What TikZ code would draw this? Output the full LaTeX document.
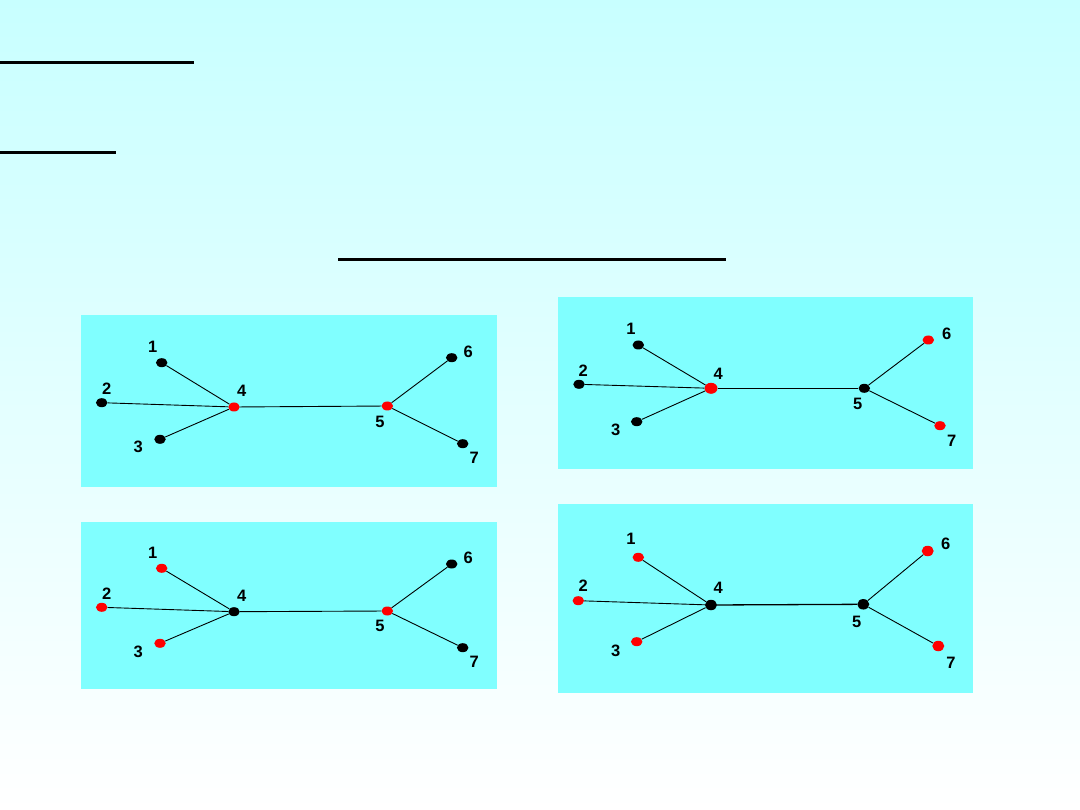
\documentclass[tikz,border=0pt]{standalone}
\usepackage{fontspec}
\setmainfont{Liberation Sans}
\usetikzlibrary{shapes.geometric}
\begin{document}
\begin{tikzpicture}[x=1pt,y=-1pt,
  panelbox/.style={fill={rgb,255:red,128;green,255;blue,255},draw=none},
  bdot/.style={ellipse,fill=black,inner sep=0pt,minimum width=11.5pt,minimum height=9pt},
  rdot/.style={ellipse,fill=red,inner sep=0pt,minimum width=11.5pt,minimum height=9pt},
  lab/.style={font=\bfseries\fontsize{16.5}{17}\selectfont,inner sep=0pt},
  edge/.style={line width=0.9pt,black},
  uline/.style={line width=2.2pt,black}]
\useasboundingbox (0,0) rectangle (1080,810);
\shade[top color={rgb,255:red,200;green,255;blue,255},bottom color=white] (0,0) rectangle (1080,810);
% underlines
\coordinate (u1a) at (0,62.5); \coordinate (u1b) at (193.5,62.5);
\coordinate (u2a) at (0,152.5); \coordinate (u2b) at (116,152.5);
\coordinate (u3a) at (338,259.5); \coordinate (u3b) at (726,259.5);
\draw[uline] (u1a) -- (u1b);
\draw[uline] (u2a) -- (u2b);
\draw[uline] (u3a) -- (u3b);
% panels
\fill[panelbox] (81,315) rectangle (497,487);
\fill[panelbox] (558,297) rectangle (973,469);
\fill[panelbox] (81,522) rectangle (497,689);
\fill[panelbox] (558,504) rectangle (973,693);
% ---------- panel A (top left)
\node[bdot] (a1) at (161.7,362.7) {};
\node[bdot] (a2) at (101.7,402.7) {};
\node[bdot] (a3) at (160,439.3) {};
\node[rdot] (a4) at (234,407) {};
\node[rdot] (a5) at (387.3,406) {};
\node[bdot] (a6) at (451.7,357.7) {};
\node[bdot] (a7) at (462.7,443.7) {};
\draw[edge] (a1) -- (a4); \draw[edge] (a2) -- (a4); \draw[edge] (a3) -- (a4);
\draw[edge] (a4) -- (a5); \draw[edge] (a5) -- (a6); \draw[edge] (a5) -- (a7);
\node[lab] (la1) at (152.7,346.7) {1};
\node[lab] (la2) at (106.7,388.3) {2};
\node[lab] (la3) at (138.3,446.7) {3};
\node[lab] (la4) at (241.7,390.7) {4};
\node[lab] (la5) at (380,421.7) {5};
\node[lab] (la6) at (468.3,351.7) {6};
\node[lab] (la7) at (474.3,457.7) {7};
% ---------- panel B (top right)
\node[bdot] (b1) at (638.3,345) {};
\node[bdot] (b2) at (579,384.3) {};
\node[bdot] (b3) at (636.7,421.7) {};
\node[rdot,minimum width=13pt,minimum height=11pt] (b4) at (711,388.3) {};
\node[bdot] (b5) at (864.3,388.3) {};
\node[rdot] (b6) at (928.3,340) {};
\node[rdot] (b7) at (940,425.7) {};
\draw[edge] (b1) -- (b4); \draw[edge] (b2) -- (b4); \draw[edge] (b3) -- (b4);
\draw[edge] (b4) -- (b5); \draw[edge] (b5) -- (b6); \draw[edge] (b5) -- (b7);
\node[lab] (lb1) at (631,329) {1};
\node[lab] (lb2) at (583.3,371) {2};
\node[lab] (lb3) at (615.7,430) {3};
\node[lab] (lb4) at (718.3,374) {4};
\node[lab] (lb5) at (857.7,404.3) {5};
\node[lab] (lb6) at (946.7,334) {6};
\node[lab] (lb7) at (951.7,441) {7};
% ---------- panel C (bottom left)
\node[rdot] (c1) at (161.7,568.3) {};
\node[rdot] (c2) at (101.7,607.3) {};
\node[rdot] (c3) at (160,643.3) {};
\node[bdot] (c4) at (234,611.7) {};
\node[rdot] (c5) at (387.3,611) {};
\node[bdot] (c6) at (451.7,564) {};
\node[bdot] (c7) at (462.7,647.7) {};
\draw[edge] (c1) -- (c4); \draw[edge] (c2) -- (c4); \draw[edge] (c3) -- (c4);
\draw[edge] (c4) -- (c5); \draw[edge] (c5) -- (c6); \draw[edge] (c5) -- (c7);
\node[lab] (lc1) at (152.7,553.3) {1};
\node[lab] (lc2) at (106.7,593.3) {2};
\node[lab] (lc3) at (138.3,651.7) {3};
\node[lab] (lc4) at (241.7,595.7) {4};
\node[lab] (lc5) at (380,626) {5};
\node[lab] (lc6) at (468.3,558.3) {6};
\node[lab] (lc7) at (474.3,661.7) {7};
% ---------- panel D (bottom right)
\node[rdot] (d1) at (638.3,557.3) {};
\node[rdot] (d2) at (578.3,600.7) {};
\node[rdot] (d3) at (636.7,641.7) {};
\node[bdot,minimum width=12pt,minimum height=10.5pt] (d4) at (711,605) {};
\node[bdot,minimum width=12pt,minimum height=10.5pt] (d5) at (863.3,604.3) {};
\node[rdot,minimum width=12pt,minimum height=10.5pt] (d6) at (927.7,551) {};
\node[rdot,minimum width=12pt,minimum height=10.5pt] (d7) at (938.3,646) {};
\draw[edge] (d1) -- (d4); \draw[edge] (d2) -- (d4); \draw[edge] (d3) -- (d4);
\draw[edge,line width=1.3pt] (d4) -- (d5); \draw[edge] (d5) -- (d6); \draw[edge] (d5) -- (d7);
\node[lab] (ld1) at (631,539.3) {1};
\node[lab] (ld2) at (583.3,586) {2};
\node[lab] (ld3) at (615.7,650.7) {3};
\node[lab] (ld4) at (718.3,588.3) {4};
\node[lab] (ld5) at (856.7,622.3) {5};
\node[lab] (ld6) at (945.7,544.3) {6};
\node[lab] (ld7) at (951,662.7) {7};
\end{tikzpicture}
\end{document}
